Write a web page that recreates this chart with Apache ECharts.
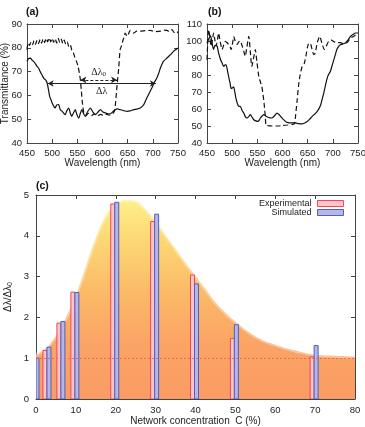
<!DOCTYPE html>
<html>
<head>
<meta charset="utf-8">
<script src="https://cdn.jsdelivr.net/npm/echarts@6/dist/echarts.min.js"></script>
<style>
  html, body { margin: 0; padding: 0; background: #fff; }
  #main { width: 365px; height: 427px; }
</style>
</head>
<body>
<div id="main"></div>
<script>
// panel (a): transmittance spectra [wavelength nm, %]
const aSolid = [[450,74.3],[453,75.5],[457,75.7],[460,74.8],[463,74.3],[466,73.5],[470,72.2],[473,71.5],[476,70.1],[480,68.5],[483,67.3],[487,66.5],[490,65.2],[493,62],[495,59.6],[498,58],[500,56.8],[503,55.5],[506,54.7],[509,56],[513,56.1],[516,54],[520,53.3],[523,52.5],[526,51.9],[529,53.5],[533,54.7],[536,52.5],[539,51.2],[542,52.5],[546,54],[549,52],[553,50.5],[556,52.5],[559,54],[562,52.5],[566,51.2],[570,53],[576,54.7],[581,53],[586,51.9],[591,53],[596,54],[601,53],[606,52.6],[611,52.3],[616,52.3],[620,53],[625,54],[630,54.3],[635,54],[642,53.6],[649,53.3],[655,53.5],[662,54],[668,54.2],[675,54.7],[682,56.1],[688,58.9],[693,61],[698,63.1],[703,65.5],[708,67.3],[712,69.5],[715,71.5],[721,74.3],[728,75.7],[735,77.1],[741,78.5],[746,79.3],[750,79.9]]
const aDashed = [[450,79.2],[452,82],[455,81],[458,82.5],[461,81.3],[464,83],[467,81.5],[470,83.2],[473,81.8],[476,83.5],[479,82],[482,83.8],[485,82.2],[488,84],[491,82.5],[494,84.2],[497,82.5],[500,84],[503,82.3],[506,83.8],[509,82],[512,84],[515,82.3],[518,83.7],[521,81.8],[524,83.2],[527,81.5],[530,82.5],[533,80.5],[536,81.2],[539,79],[542,78],[545,76],[548,74.5],[551,72.5],[554,69.5],[556,66.6],[558,62],[560,57],[563,52.6],[567,51.5],[572,52.5],[578,51.5],[584,52.3],[590,51.4],[596,52],[602,51.6],[608,52],[614,51.7],[620,52.2],[624,53.5],[626,57],[628,62],[630,66.6],[632,71],[635,79.2],[638,81],[641,83.4],[643,84.5],[645,86.2],[647,85.5],[649,84.8],[652,86],[655,87.3],[658,86.8],[662,86.2],[668,87],[675,87],[685,87.2],[695,87.3],[705,86.8],[715,87],[722,87.4],[728,87.3],[733,86.8],[738,87.6],[742,86.5],[745,86.2],[748,86.8],[750,86.2]]
const dl0Line = [[556,66.5],[629,66.5]]
const dlLine = [[491,65],[706,65]]

// panel (b)
const bSolid = [[450,98.8],[453,101],[457,103],[460,99],[463,95],[466,97.5],[470,97],[473,93],[477,89],[480,87],[483,85],[486,86],[488,86],[491,82],[493,79],[496,75],[498,72],[501,72.5],[503,73],[507,67],[510,63.5],[513,61.5],[516,61.6],[520,59],[523,57.6],[526,55.5],[529,54.7],[533,55.5],[536,56.7],[540,55],[543,53.7],[547,53],[551,52.7],[554,53.5],[556,54.7],[560,56],[563,56.7],[566,56],[570,55.3],[575,54.8],[579,54.7],[584,56],[589,57.6],[593,56.8],[596,55.7],[601,54],[606,52.7],[611,52],[616,51.8],[620,51.8],[625,51.8],[632,51.4],[639,51.2],[644,51.8],[649,52.7],[654,54],[659,55.7],[664,57],[669,58.6],[673,60.5],[676,62.5],[679,66],[682,69.4],[685,73.5],[688,77.3],[691,80],[695,82],[698,85],[702,89],[705,92],[708,95],[712,97],[715,97.8],[720,98.3],[725,98.8],[730,100.5],[735,102.7],[740,103.8],[745,104.7],[750,104.7]]
const bDashed = [[450,89],[451,96],[453,106.7],[455,104],[458,97],[461,101],[463,104.7],[466,100],[468,97],[471,101],[473,104.7],[476,100],[480,95],[483,97.5],[486,99.8],[490,99],[493,97.8],[496,96.5],[498,95],[501,99],[503,102.7],[506,100],[510,98],[513,99.5],[516,100],[520,97],[523,94],[526,91],[529,96],[533,102.7],[536,94],[539,85],[542,89],[546,95],[549,88],[553,79],[556,76],[559,73],[562,67],[564,61.6],[566,55],[567,50.5],[570,50.2],[580,50],[590,50],[600,50.3],[610,50.6],[620,51],[624,51.5],[626,56],[629,65],[632,74],[635,80],[639,85],[643,86.5],[647,92],[651,98],[655,98.8],[658,96],[662,92],[665,93],[669,99],[674,102.7],[678,99],[683,95],[687,97],[692,100],[697,100.5],[703,99.5],[710,99],[715,99],[720,98.5],[728,99],[732,100.5],[735,102],[740,102.5],[745,103.5],[750,104]]

// panel (c): broadening ratio vs network concentration
const concentration = [0, 3, 6.5, 10, 20, 30, 40, 50, 70]
const experimental = [1.0, 1.19, 1.86, 2.62, 4.78, 4.35, 3.04, 1.48, 1.03]
const simulated = [1.0, 1.27, 1.9, 2.61, 4.82, 4.53, 2.82, 1.82, 1.31]
const envelopeC = [0,2.5,5,7.5,10,12.5,15,17.5,20,22.5,25,27.5,30,32.5,35,37.5,40,42.5,45,47.5,50,55,60,65,70,75,80]
const envelopeV = [1.08,1.25,1.55,2.0,2.55,3.25,3.95,4.5,4.78,4.88,4.85,4.65,4.37,4.02,3.68,3.34,3.02,2.7,2.37,2.12,1.9,1.54,1.33,1.19,1.09,1.06,1.04]

const FONT = 'Liberation Sans'
const frameColor = '#444'
const expStyle = { color: '#ffc3ca', borderColor: '#ec4a55', borderWidth: 1 }
const simStyle = { color: '#b4b8e4', borderColor: '#4f5fc2', borderWidth: 1 }

function frame(gridIndex, min, max, interval, showLabels, name, nameGap, labelMargin) {
    const base = {
        gridIndex: gridIndex,
        type: 'value',
        min: min,
        max: max,
        interval: interval,
        splitLine: { show: false },
        axisLine: { show: true, onZero: false, lineStyle: { color: frameColor, width: 1 } },
        axisTick: { show: true, inside: true, length: 4, lineStyle: { color: frameColor } }
    }
    const main = Object.assign({}, base, {
        name: name || '',
        nameLocation: 'middle',
        nameGap: nameGap,
        nameMoveOverlap: false,
        nameTextStyle: { fontFamily: FONT, fontSize: 10, color: '#222' },
        axisLabel: { show: showLabels, fontFamily: FONT, fontSize: 9.5, color: '#222', margin: labelMargin }
    })
    const mirror = Object.assign({}, base, { axisLabel: { show: false } })
    return [main, mirror]
}

const xa = frame(0, 450, 750, 50, true, 'Wavelength (nm)', 15, 5)
const xb = frame(1, 450, 750, 50, true, 'Wavelength (nm)', 15, 5)
const xc = frame(2, 0, 80, 10, true, 'Network concentration  C (%)', 17, 6)
xa[1].position = 'top'; xb[1].position = 'top'; xc[1].position = 'top'

const ya = frame(0, 40, 90, 10, true, 'Transmittance (%)', 17, 5)
const yb = frame(1, 40, 110, 10, true, '', 0, 5)
const yc = frame(2, 0, 5, 1, true, '', 0, 7)
ya[1].position = 'right'; yb[1].position = 'right'; yc[1].position = 'right'
yc[0].name = '{a|Δλ/Δλ}{s|0}'
yc[0].nameGap = 22
yc[0].nameTextStyle = {
    fontFamily: FONT, color: '#222',
    rich: {
        a: { fontFamily: FONT, fontSize: 10, color: '#222' },
        s: { fontFamily: FONT, fontSize: 7, color: '#222', padding: [5, 0, 0, 0] }
    }
}

const serifRich = {
    a: { fontFamily: 'Liberation Serif', fontSize: 10, color: '#222' },
    s: { fontFamily: 'Liberation Serif', fontSize: 7, color: '#222', padding: [5, 0, 0, 0] }
}

function spectrum(data, xi, yi, dashed) {
    return {
        type: 'line',
        xAxisIndex: xi,
        yAxisIndex: yi,
        data: data,
        showSymbol: false,
        silent: true,
        smooth: 0.2,
        lineStyle: { color: '#111', width: 1.2, type: dashed ? [5, 3] : 'solid' }
    }
}

// bars drawn via axis coords, offset in pixels from the concentration value
function barSeries(name, values, style, offset) {
    return {
        name: name,
        type: 'custom',
        xAxisIndex: 4,
        yAxisIndex: 4,
        z: 3,
        clip: true,
        itemStyle: style,
        data: concentration.map((c, i) => [c, values[i]]),
        renderItem: function (params, api) {
            const top = api.coord([api.value(0), api.value(1)])
            const base = api.coord([api.value(0), 0])
            const cs = params.coordSys
            const shape = echarts.graphic.clipRectByRect(
                { x: top[0] + offset, y: top[1], width: 4, height: base[1] - top[1] },
                { x: cs.x, y: cs.y, width: cs.width, height: cs.height }
            )
            if (!shape) return
            return {
                type: 'rect',
                shape: shape,
                style: { fill: style.color, stroke: style.borderColor, lineWidth: style.borderWidth }
            }
        }
    }
}

const chart = echarts.init(document.getElementById('main'))

chart.setOption({
    animation: false,
    backgroundColor: '#fff',
    title: [
        { text: '(a)', left: 26, top: 7, padding: 0, textStyle: { fontFamily: FONT, fontSize: 10.5, fontWeight: 'bold', color: '#111' } },
        { text: '(b)', left: 208, top: 7, padding: 0, textStyle: { fontFamily: FONT, fontSize: 10.5, fontWeight: 'bold', color: '#111' } },
        { text: '(c)', left: 36, top: 181, padding: 0, textStyle: { fontFamily: FONT, fontSize: 10.5, fontWeight: 'bold', color: '#111' } }
    ],
    legend: {
        data: [
            { name: 'Experimental', icon: 'rect', itemStyle: expStyle },
            { name: 'Simulated', icon: 'rect', itemStyle: simStyle }
        ],
        orient: 'vertical',
        right: 21,
        top: 199,
        align: 'right',
        itemWidth: 26,
        itemHeight: 6,
        itemGap: 0,
        padding: 0,
        textStyle: { fontFamily: FONT, fontSize: 9, color: '#222', lineHeight: 9, padding: [0, 1, 0, 0] }
    },
    grid: [
        { left: 27, top: 24, width: 151, height: 119, outerBoundsMode: 'none' },
        { left: 207, top: 24, width: 151, height: 119, outerBoundsMode: 'none' },
        { left: 36, top: 195, width: 319, height: 204, outerBoundsMode: 'none' }
    ],
    xAxis: [].concat(xa, xb, xc),
    yAxis: [].concat(ya, yb, yc),
    series: [
        spectrum(aDashed, 0, 0, true),
        spectrum(aSolid, 0, 0, false),
        {
            type: 'line',
            xAxisIndex: 0,
            yAxisIndex: 0,
            data: [],
            markLine: {
                silent: true,
                symbol: ['arrow', 'arrow'],
                symbolSize: [5, 6],
                data: [
                    [
                        { coord: dl0Line[0], lineStyle: { type: [3, 2], color: '#222', width: 1 },
                          label: { show: true, position: 'insideMiddleTop', formatter: '{a|Δλ}{s|0}', distance: 2, rich: serifRich } },
                        { coord: dl0Line[1] }
                    ],
                    [
                        { coord: dlLine[0], lineStyle: { type: 'solid', color: '#222', width: 1 },
                          label: { show: true, position: 'insideMiddleBottom', formatter: '{a|Δλ}', distance: 3, rich: serifRich } },
                        { coord: dlLine[1] }
                    ]
                ]
            }
        },
        spectrum(bDashed, 2, 2, true),
        spectrum(bSolid, 2, 2, false),
        {
            type: 'line',
            xAxisIndex: 4,
            yAxisIndex: 4,
            data: envelopeC.map((c, i) => [c, envelopeV[i]]),
            smooth: true,
            showSymbol: false,
            silent: true,
            z: 1,
            lineStyle: { width: 4, color: 'rgba(255,255,255,0.35)' },
            areaStyle: {
                opacity: 1,
                color: new echarts.graphic.LinearGradient(0, 0, 0, 1, [
                    { offset: 0, color: '#fdef8a' },
                    { offset: 0.2, color: '#fdd874' },
                    { offset: 0.45, color: '#fbbb67' },
                    { offset: 0.72, color: '#fba465' },
                    { offset: 1, color: '#fa9c63' }
                ])
            },
            markArea: {
                silent: true,
                itemStyle: { color: '#fa9562' },
                data: [[{ yAxis: 0 }, { yAxis: 1 }]]
            },
            markLine: {
                silent: true,
                symbol: 'none',
                label: { show: false },
                lineStyle: { color: '#e2605e', type: [2, 2], width: 0.8 },
                data: [{ yAxis: 1 }]
            }
        },
        barSeries('Experimental', experimental, expStyle, -5),
        barSeries('Simulated', simulated, simStyle, -1)
    ]
})
</script>
</body>
</html>
